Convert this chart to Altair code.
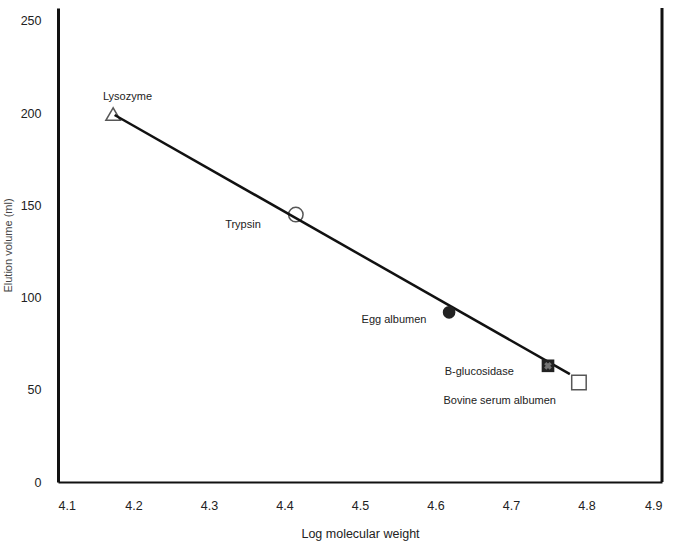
import altair as alt
import pandas as pd

# Calibration proteins: log molecular weight vs elution volume
proteins = ["Lysozyme", "Trypsin", "Egg albumen", "B-glucosidase", "Bovine serum albumen"]
log_mw = [4.173, 4.415, 4.618, 4.749, 4.790]
elution_ml = [199.5, 145.0, 92.0, 63.0, 54.0]
shapes = ["triangle-up", "circle", "circle", "square", "square"]
filled = [False, False, True, True, False]

# Label anchor positions (data units)
label_x = [4.192, 4.345, 4.545, 4.658, 4.685]
label_y = [209.0, 139.5, 88.0, 59.5, 44.0]

# Fitted calibration line end points
fit_x = [4.175, 4.778]
fit_y = [199.0, 58.5]

x_ticks = [4.1, 4.2, 4.3, 4.4, 4.5, 4.6, 4.7, 4.8, 4.9]
y_ticks = [0, 50, 100, 150, 200, 250]

pts = pd.DataFrame({"protein": proteins, "x": log_mw, "y": elution_ml,
                    "shape": shapes, "filled": filled})
labels = pd.DataFrame({"protein": proteins, "x": label_x, "y": label_y})
fit = pd.DataFrame({"x": fit_x, "y": fit_y})

FONT = "Liberation Sans"

xs = alt.Scale(domain=[4.1, 4.9], nice=False, zero=False)
ys = alt.Scale(domain=[0, 257], nice=False)

x_axis = alt.Axis(values=x_ticks, format=".1f", title="Log molecular weight",
                  grid=False, ticks=False, domain=True, domainColor="#111",
                  domainWidth=2, labelPadding=17, labelFontSize=12.5,
                  labelColor="#222", titleFontSize=12.5, titleFontWeight="normal",
                  titleColor="#222", titlePadding=16, labelFont=FONT, titleFont=FONT)
y_axis = alt.Axis(values=y_ticks, title="Elution volume (ml)", grid=False,
                  ticks=False, domain=True, domainColor="#111", domainWidth=3,
                  labelPadding=17, labelFontSize=12.5, labelColor="#222",
                  titleFontSize=11, titleFontWeight="normal", titleColor="#444",
                  titlePadding=7, labelFont=FONT, titleFont=FONT)

base = alt.Chart(fit).mark_line(color="#111", strokeWidth=2.5).encode(
    x=alt.X("x:Q", scale=xs, axis=x_axis),
    y=alt.Y("y:Q", scale=ys, axis=y_axis),
)

# right-hand frame line at x = 4.9
right_edge = alt.Chart(pd.DataFrame({"x": [4.9]})).mark_rule(
    color="#111", strokeWidth=3).encode(
    x=alt.X("x:Q", scale=xs), y=alt.value(0), y2=alt.value(474))

open_pts = alt.Chart(pts).transform_filter("!datum.filled").mark_point(
    filled=False, color="#111", strokeWidth=1.5, size=210).encode(
    x=alt.X("x:Q", scale=xs), y=alt.Y("y:Q", scale=ys),
    shape=alt.Shape("shape:N", scale=None))

solid_pts = alt.Chart(pts).transform_filter("datum.filled").mark_point(
    filled=True, color="#222", opacity=1, size=160).encode(
    x=alt.X("x:Q", scale=xs), y=alt.Y("y:Q", scale=ys),
    shape=alt.Shape("shape:N", scale=None))

# hatched cross on the B-glucosidase marker
cross = alt.Chart(pts).transform_filter("datum.protein == 'B-glucosidase'").mark_point(
    shape="cross", angle=45, filled=True, color="#999", size=60).encode(
    x=alt.X("x:Q", scale=xs), y=alt.Y("y:Q", scale=ys))

text = alt.Chart(labels).mark_text(font=FONT, fontSize=11, color="#222",
                                   align="center").encode(
    x=alt.X("x:Q", scale=xs), y=alt.Y("y:Q", scale=ys), text="protein:N")

chart = (base + right_edge + open_pts + solid_pts + cross + text).properties(
    width=604, height=474,
    autosize=alt.AutoSizeParams(type="none"),
    padding={"left": 58, "top": 8, "right": 16, "bottom": 63},
    background="white",
).configure_view(stroke=None)

chart.save("out.html", embed_options={"renderer": "svg", "actions": False})
